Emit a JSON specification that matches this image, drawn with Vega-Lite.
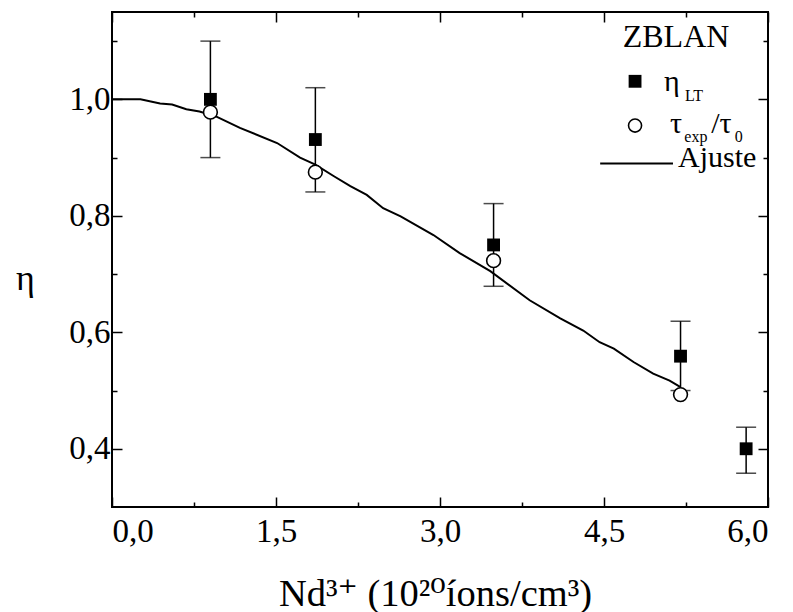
{
  "$schema": "https://vega.github.io/schema/vega-lite/v6.json",
  "width": 656,
  "height": 495,
  "autosize": {"type": "none"},
  "padding": {"left": 112, "top": 12, "right": 25, "bottom": 105},
  "background": "white",
  "config": {
    "locale": {"number": {"decimal": ",", "thousands": ".", "grouping": [3], "currency": ["", ""]}},
    "view": {"stroke": "black", "strokeWidth": 2},
    "axis": {"grid": false, "domain": false, "tickColor": "black", "tickWidth": 1.5, "labelColor": "black", "titleColor": "black", "labelFont": "Liberation Serif", "titleFont": "Liberation Serif, DejaVu Serif, serif", "labelFontSize": 33, "titleFontWeight": "normal"},
    "text": {"font": "Liberation Serif", "color": "black"}
  },
  "datasets": {
    "fit": [{"x":0,"y":1.0},{"x":0.26,"y":1.0},{"x":0.44,"y":0.993},{"x":0.55,"y":0.991},{"x":0.68,"y":0.983},{"x":0.8,"y":0.979},{"x":0.96,"y":0.97},{"x":1.17,"y":0.951},{"x":1.51,"y":0.925},{"x":1.72,"y":0.9},{"x":1.86,"y":0.888},{"x":2.03,"y":0.868},{"x":2.18,"y":0.851},{"x":2.33,"y":0.836},{"x":2.48,"y":0.813},{"x":2.64,"y":0.799},{"x":2.94,"y":0.767},{"x":3.18,"y":0.736},{"x":3.46,"y":0.705},{"x":3.82,"y":0.655},{"x":4.1,"y":0.624},{"x":4.31,"y":0.603},{"x":4.46,"y":0.583},{"x":4.59,"y":0.572},{"x":4.77,"y":0.549},{"x":4.95,"y":0.529},{"x":5.1,"y":0.517},{"x":5.2,"y":0.506}],
    "lt": [{"x":0.9,"y":1.0,"lo":0.9,"hi":1.1},{"x":1.86,"y":0.931,"lo":0.841,"hi":1.02},{"x":3.49,"y":0.75,"lo":0.679,"hi":0.821},{"x":5.2,"y":0.559,"lo":0.5,"hi":0.619},{"x":5.8,"y":0.4,"lo":0.358,"hi":0.437}],
    "tau": [{"x":0.9,"y":0.978},{"x":1.86,"y":0.875},{"x":3.49,"y":0.723},{"x":5.2,"y":0.493}],
    "ltitle": [{"x":5.159,"y":1.0897,"t":"ZBLAN"}],
    "lab": [{"x":5.049,"y":1.0138,"t":"η"},{"x":5.104,"y":0.943,"t":"τ"},{"x":5.48,"y":0.943,"t":"/τ"},{"x":5.177,"y":0.8845,"t":"Ajuste"}],
    "sub": [{"x":5.24,"y":0.9966,"t":"LT"},{"x":5.235,"y":0.926,"t":"exp"},{"x":5.695,"y":0.926,"t":"0"}],
    "lsq": [{"x":4.784,"y":1.031}],
    "lci": [{"x":4.784,"y":0.955}],
    "lline": [{"x":4.465,"x2":5.131,"y":0.8897}]
  },
  "layer": [
    {
      "data": {"name": "fit"},
      "mark": {"type": "line", "color": "black", "strokeWidth": 2},
      "encoding": {
        "x": {"field": "x", "type": "quantitative", "scale": {"domain": [0, 6], "nice": false, "zero": false},
          "axis": {"orient": "bottom", "values": [0, 1.5, 3, 4.5, 6], "format": ".1f", "tickSize": -10, "labelPadding": 18, "title": "Nd³⁺ (10²⁰íons/cm³)", "titleFontSize": 38.5, "titleX": 323, "titleY": 98, "titleAlign": "center", "titleBaseline": "alphabetic"}},
        "y": {"field": "y", "type": "quantitative", "scale": {"domain": [0.3, 1.15], "nice": false, "zero": false},
          "axis": {"orient": "left", "values": [0.4, 0.6, 0.8, 1.0], "format": ".1f", "tickSize": -10, "labelPadding": 12, "title": "η", "titleAngle": 0, "titleFontSize": 36, "titleX": -87, "titleY": 277, "titleAlign": "center", "titleBaseline": "alphabetic"}}
      }
    },
    {
      "data": {"name": "lt"},
      "mark": {"type": "rule", "color": "black", "strokeWidth": 1.5},
      "encoding": {
        "x": {"field": "x", "type": "quantitative", "scale": {"domain": [0, 6], "nice": false, "zero": false},
          "axis": {"orient": "bottom", "values": [0.75, 2.25, 3.75, 5.25], "labels": false, "tickSize": -5, "title": null}},
        "y": {"field": "lo", "type": "quantitative", "scale": {"domain": [0.3, 1.15], "nice": false, "zero": false},
          "axis": {"orient": "left", "values": [0.5, 0.7, 0.9, 1.1], "labels": false, "tickSize": -5, "title": null}},
        "y2": {"field": "hi"}
      }
    },
    {
      "data": {"name": "lt"},
      "mark": {"type": "tick", "color": "black", "orient": "horizontal", "size": 20, "thickness": 1.5},
      "encoding": {
        "x": {"field": "x", "type": "quantitative", "scale": {"domain": [0, 6], "nice": false, "zero": false},
          "axis": {"orient": "top", "values": [0, 1.5, 3, 4.5, 6], "labels": false, "tickSize": -10, "title": null}},
        "y": {"field": "lo", "type": "quantitative", "scale": {"domain": [0.3, 1.15], "nice": false, "zero": false},
          "axis": {"orient": "right", "values": [0.4, 0.6, 0.8, 1.0], "labels": false, "tickSize": -10, "title": null}}
      }
    },
    {
      "data": {"name": "lt"},
      "mark": {"type": "tick", "color": "black", "orient": "horizontal", "size": 20, "thickness": 1.5},
      "encoding": {
        "x": {"field": "x", "type": "quantitative", "scale": {"domain": [0, 6], "nice": false, "zero": false},
          "axis": {"orient": "top", "values": [0.75, 2.25, 3.75, 5.25], "labels": false, "tickSize": -5, "title": null}},
        "y": {"field": "hi", "type": "quantitative", "scale": {"domain": [0.3, 1.15], "nice": false, "zero": false},
          "axis": {"orient": "right", "values": [0.5, 0.7, 0.9, 1.1], "labels": false, "tickSize": -5, "title": null}}
      }
    },
    {
      "data": {"name": "lt"},
      "mark": {"type": "point", "shape": "square", "filled": true, "color": "black", "size": 165, "opacity": 1},
      "encoding": {
        "x": {"field": "x", "type": "quantitative", "scale": {"domain": [0, 6], "nice": false, "zero": false}, "axis": null},
        "y": {"field": "y", "type": "quantitative", "scale": {"domain": [0.3, 1.15], "nice": false, "zero": false}, "axis": null}
      }
    },
    {
      "data": {"name": "tau"},
      "mark": {"type": "point", "shape": "circle", "filled": true, "fill": "white", "stroke": "black", "strokeWidth": 1.6, "size": 190, "opacity": 1},
      "encoding": {
        "x": {"field": "x", "type": "quantitative", "scale": {"domain": [0, 6], "nice": false, "zero": false}, "axis": null},
        "y": {"field": "y", "type": "quantitative", "scale": {"domain": [0.3, 1.15], "nice": false, "zero": false}, "axis": null}
      }
    },
    {
      "data": {"name": "ltitle"},
      "mark": {"type": "text", "fontSize": 32, "align": "center", "baseline": "alphabetic", "color": "black"},
      "encoding": {
        "x": {"field": "x", "type": "quantitative", "scale": {"domain": [0, 6], "nice": false, "zero": false}, "axis": null},
        "y": {"field": "y", "type": "quantitative", "scale": {"domain": [0.3, 1.15], "nice": false, "zero": false}, "axis": null},
        "text": {"field": "t"}
      }
    },
    {
      "data": {"name": "lab"},
      "mark": {"type": "text", "fontSize": 30, "align": "left", "baseline": "alphabetic", "color": "black"},
      "encoding": {
        "x": {"field": "x", "type": "quantitative", "scale": {"domain": [0, 6], "nice": false, "zero": false}, "axis": null},
        "y": {"field": "y", "type": "quantitative", "scale": {"domain": [0.3, 1.15], "nice": false, "zero": false}, "axis": null},
        "text": {"field": "t"}
      }
    },
    {
      "data": {"name": "sub"},
      "mark": {"type": "text", "fontSize": 16, "align": "left", "baseline": "alphabetic", "color": "black"},
      "encoding": {
        "x": {"field": "x", "type": "quantitative", "scale": {"domain": [0, 6], "nice": false, "zero": false}, "axis": null},
        "y": {"field": "y", "type": "quantitative", "scale": {"domain": [0.3, 1.15], "nice": false, "zero": false}, "axis": null},
        "text": {"field": "t"}
      }
    },
    {
      "data": {"name": "lsq"},
      "mark": {"type": "point", "shape": "square", "filled": true, "color": "black", "size": 165, "opacity": 1},
      "encoding": {
        "x": {"field": "x", "type": "quantitative", "scale": {"domain": [0, 6], "nice": false, "zero": false}, "axis": null},
        "y": {"field": "y", "type": "quantitative", "scale": {"domain": [0.3, 1.15], "nice": false, "zero": false}, "axis": null}
      }
    },
    {
      "data": {"name": "lci"},
      "mark": {"type": "point", "shape": "circle", "filled": true, "fill": "white", "stroke": "black", "strokeWidth": 1.6, "size": 170, "opacity": 1},
      "encoding": {
        "x": {"field": "x", "type": "quantitative", "scale": {"domain": [0, 6], "nice": false, "zero": false}, "axis": null},
        "y": {"field": "y", "type": "quantitative", "scale": {"domain": [0.3, 1.15], "nice": false, "zero": false}, "axis": null}
      }
    },
    {
      "data": {"name": "lline"},
      "mark": {"type": "rule", "color": "black", "strokeWidth": 2},
      "encoding": {
        "x": {"field": "x", "type": "quantitative", "scale": {"domain": [0, 6], "nice": false, "zero": false}, "axis": null},
        "x2": {"field": "x2"},
        "y": {"field": "y", "type": "quantitative", "scale": {"domain": [0.3, 1.15], "nice": false, "zero": false}, "axis": null}
      }
    }
  ],
  "resolve": {"axis": {"x": "independent", "y": "independent"}}
}
